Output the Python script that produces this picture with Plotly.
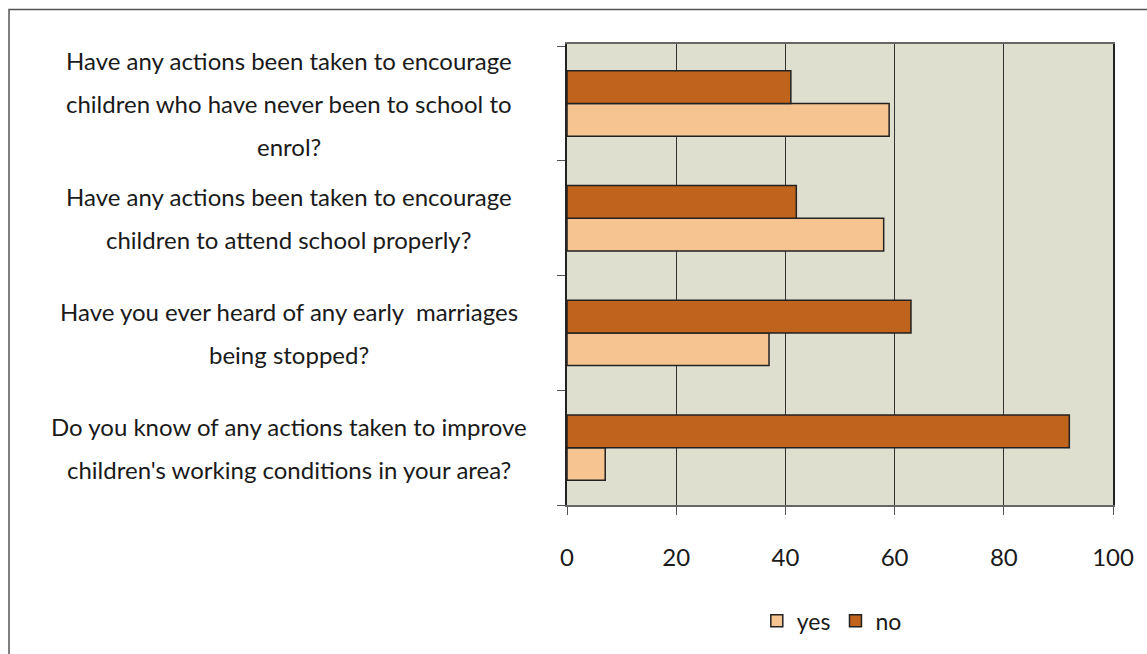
import plotly.graph_objects as go

questions = [
    ["Have any actions been taken to encourage", "children who have never been to school to", "enrol?"],
    ["Have any actions been taken to encourage", "children to attend school properly?"],
    ["Have you ever heard of any early  marriages", "being stopped?"],
    ["Do you know of any actions taken to improve", "children's working conditions in your area?"],
]
cat_ids = ["q1", "q2", "q3", "q4"]
yes_vals = [59, 58, 37, 7]
no_vals = [41, 42, 63, 92]
x_ticks = [0, 20, 40, 60, 80, 100]

FONT = "Lato"
YES_C = "#f5c491"
NO_C = "#c0631d"

fig = go.Figure()
fig.add_trace(go.Bar(y=cat_ids, x=yes_vals, orientation="h", name="yes",
                     marker=dict(color=YES_C, line=dict(color="#222", width=1.5))))
fig.add_trace(go.Bar(y=cat_ids, x=no_vals, orientation="h", name="no",
                     marker=dict(color=NO_C, line=dict(color="#222", width=1.5))))

line_h = 43
for cid, lines in zip(cat_ids, questions):
    n = len(lines)
    for i, t in enumerate(lines):
        off = ((n - 1) / 2 - i) * line_h
        fig.add_annotation(x=-0.51, xref="paper", y=cid, yref="y", yshift=off,
                           text=t, showarrow=False, xanchor="center", yanchor="middle",
                           font=dict(family=FONT, size=24, color="#1a1a1a"))

W, H = 1147, 654
L, R, T, B = 567, 34, 44, 144
pw, ph = W - L - R, H - T - B
fig.add_shape(type="rect", xref="paper", yref="paper",
              x0=(9 - L) / pw, x1=(W + 20 - L) / pw,
              y0=(H - B - (H + 20)) / ph, y1=(H - B - 9) / ph,
              line=dict(color="#555", width=1.5), fillcolor="rgba(0,0,0,0)", layer="below")

fig.update_layout(
    width=W, height=H,
    margin=dict(l=L, r=R, t=T, b=B),
    paper_bgcolor="white", plot_bgcolor="#dfdfcf",
    barmode="group", bargap=0.43, bargroupgap=0,
    font=dict(family=FONT, size=22, color="#1a1a1a"),
    legend=dict(orientation="h", x=0.485, xanchor="center", y=-0.251, yanchor="middle",
                font=dict(family=FONT, size=23), traceorder="normal"),
    xaxis=dict(range=[0, 100], tickvals=x_ticks, showgrid=True, gridcolor="#333", gridwidth=1,
               showline=True, linecolor="#666", linewidth=1.5, mirror=True,
               ticks="outside", ticklen=8, tickcolor="#555",
               ticklabelstandoff=22, tickfont=dict(size=24), zeroline=False),
    yaxis=dict(categoryorder="array", categoryarray=cat_ids[::-1],
               showticklabels=False, showline=True, linecolor="#222", linewidth=1.5,
               mirror=True, ticks="outside", ticklen=8, tickson="boundaries",
               tickcolor="#555", showgrid=False),
)
fig.write_html("out.html")
